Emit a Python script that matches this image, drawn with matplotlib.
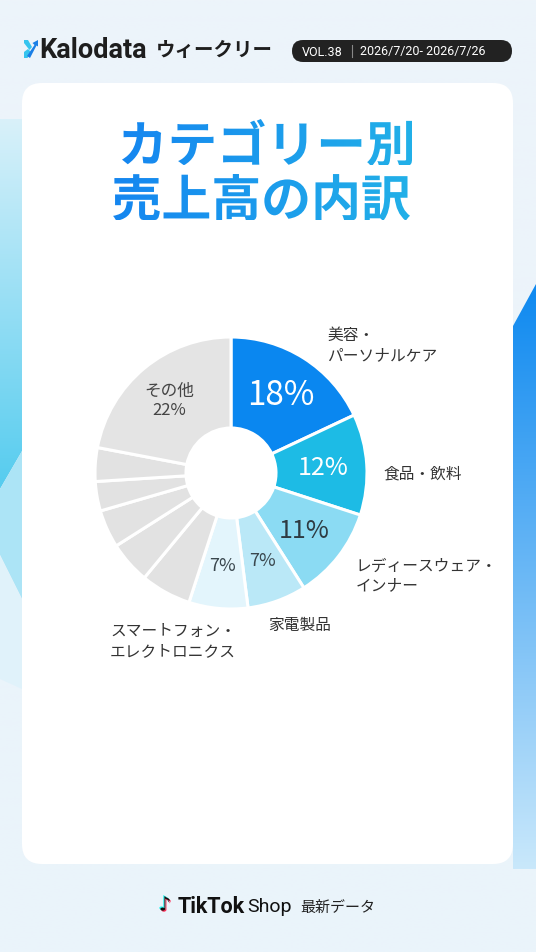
import numpy as np
import matplotlib
matplotlib.use("Agg")
import matplotlib.pyplot as plt
import matplotlib.patheffects as pe
from matplotlib.patches import FancyBboxPatch, Polygon, PathPatch
from matplotlib.textpath import TextPath
from matplotlib.font_manager import FontProperties
from matplotlib.colors import to_rgb
from matplotlib.transforms import Affine2D

# Data
categories = ["美容・\nパーソナルケア", "食品・飲料", "レディースウェア・\nインナー", "家電製品",
              "スマートフォン・\nエレクトロニクス", "", "", "", "", "", "その他"]
shares = [18, 12, 11, 7, 7, 6, 5, 4.5, 3.5, 4, 22]
pct_labels = ["18%", "12%", "11%", "7%", "7%", "", "", "", "", "", "その他\n22%"]
slice_colors = ["#0A87F0", "#1DBBE5", "#8BDBF3", "#BAE8F7", "#E3F5FC",
                "#E2E2E2", "#E2E2E2", "#E2E2E2", "#E2E2E2", "#E2E2E2", "#E4E4E4"]

title_lines = ["カテゴリー別", "売上高の内訳"]
brand = "Kalodata"
series_name = "ウィークリー"
vol_text = "VOL.38"
date_text = "2026/7/20- 2026/7/26"

W, H = 536, 953
JP = ["Noto Sans CJK JP", "DejaVu Sans"]
LAT = ["Roboto", "DejaVu Sans"]
plt.rcParams["font.family"] = JP


def Y(v):
    return H - v


def gradient(ax, extent, c0, c1, vertical=True, clip=None, z=0):
    a, b = np.array(to_rgb(c0)), np.array(to_rgb(c1))
    t = np.linspace(0, 1, 256)
    ramp = a[None, :] * (1 - t[:, None]) + b[None, :] * t[:, None]
    img = ramp[:, None, :] if vertical else ramp[None, :, :]
    im = ax.imshow(img, extent=extent, origin="upper" if vertical else "lower",
                   aspect="auto", zorder=z, interpolation="bilinear")
    if clip is not None:
        im.set_clip_path(clip)
    return im


fig = plt.figure(figsize=(W / 100, H / 100), dpi=100)
ax = fig.add_axes([0, 0, 1, 1])

# background
gradient(ax, (0, W, 0, H), "#EDF4FA", "#EAF4FB", z=0)

# right blue strip
strip = Polygon([(513, Y(327)), (536, Y(285)), (536, 0), (513, 0)], closed=True,
                facecolor="none", edgecolor="none")
ax.add_patch(strip)
gradient(ax, (513, 536, Y(870), Y(285)), "#0E89F0", "#C9E8FB", clip=strip, z=0.2)

# left cyan band
band = Polygon([(0, Y(120)), (22, Y(120)), (22, Y(452)), (0, Y(490))], closed=True,
               facecolor="none", edgecolor="none")
ax.add_patch(band)
gradient(ax, (0, 22, Y(490), Y(120)), "#D9F1FA", "#55CCEF", clip=band, z=0.2)
ax.add_patch(Polygon([(0, Y(490)), (22, Y(452)), (22, Y(600)), (0, Y(556))],
                     closed=True, facecolor="#ACE4F6", edgecolor="none", zorder=0.2))
ax.add_patch(Polygon([(0, Y(556)), (22, Y(600)), (22, Y(690)), (0, Y(680))],
                     closed=True, facecolor="#E0F2FA", edgecolor="none", zorder=0.2))

# card
ax.add_patch(FancyBboxPatch((22, Y(865)), 491, 781,
                            boxstyle="round,pad=0,rounding_size=20",
                            facecolor="white", edgecolor="none", zorder=0.5))

# header logo
ax.add_patch(Polygon([(24, Y(41)), (28, Y(41)), (32, Y(48)), (29.5, Y(51)), (24, Y(44))],
                     closed=True, facecolor="#36C4EE", edgecolor="none", zorder=2))
ax.add_patch(Polygon([(24, Y(59)), (24, Y(53)), (28, Y(50)), (31, Y(53)), (27.5, Y(59))],
                     closed=True, facecolor="#36C4EE", edgecolor="none", zorder=2))
ax.add_patch(Polygon([(27, Y(57)), (34.5, Y(46)), (32.5, Y(44)), (38, Y(41)), (38, Y(47.5)),
                      (36.5, Y(46.5)), (30, Y(59))],
                     closed=True, facecolor="#1A7FE6", edgecolor="none", zorder=2))
ax.text(39.5, Y(51), brand, fontsize=19.5, fontweight="bold", color="#1E1E1E",
        family=LAT, va="center", ha="left", zorder=3)
ax.text(156, Y(51), series_name, fontsize=14, fontweight="bold", color="#1E1E1E",
        va="center", ha="left", zorder=3)

ax.add_patch(FancyBboxPatch((292, Y(63)), 220, 22,
                            boxstyle="round,pad=0,rounding_size=11",
                            facecolor="#222222", edgecolor="none", zorder=2))
ax.text(302, Y(52), vol_text, fontsize=9, color="white", va="center", ha="left",
        family=LAT, zorder=3)
ax.plot([352, 352], [Y(46), Y(58)], color="#888888", lw=0.8, zorder=3)
ax.text(360, Y(52), date_text, fontsize=9, color="white", va="center", ha="left",
        family=LAT, zorder=3)

# title with blue gradient
fp_title = FontProperties(family="Noto Sans CJK JP", weight="bold")
title_boxes = [(122, 412, 120, 163), (113, 410, 175, 218)]
for line, (x0, x1, yt, yb) in zip(title_lines, title_boxes):
    tp = TextPath((0, 0), line, size=1, prop=fp_title)
    ext = tp.get_extents()
    s = (x1 - x0) / ext.width
    tr = Affine2D().translate(-ext.x0, -ext.y1).scale(s).translate(x0, Y(yt))
    pp = PathPatch(tr.transform_path(tp), facecolor="none", edgecolor="none")
    ax.add_patch(pp)
    gradient(ax, (x0 - 2, x1 + 2, Y(yb) - 3, Y(yt) + 3), "#1586F0", "#22B0E8",
             vertical=False, clip=pp, z=3)

# donut
cx, cy, R = 231, Y(474), 136
wedges, _ = ax.pie(shares, colors=slice_colors, startangle=90, counterclock=False,
                   center=(cx, cy), radius=R,
                   wedgeprops=dict(width=R - 45, edgecolor="white", linewidth=2.2))
for w in wedges:
    w.set_zorder(2)

pct_style = {"18%": (24, "white"), "12%": (18, "white"), "11%": (18, "#2E3B42")}
for w, lab in zip(wedges, pct_labels):
    if not lab:
        continue
    mid = np.deg2rad((w.theta1 + w.theta2) / 2)
    px, py = cx + 0.68 * R * np.cos(mid), cy + 0.68 * R * np.sin(mid)
    if lab.startswith("その他"):
        ax.text(px - 3, py + 2, lab, fontsize=12, color="#444444", ha="center",
                va="center", linespacing=1.15, zorder=3)
    else:
        fs, col = pct_style.get(lab, (13, "#3A474E"))
        ax.text(px, py, lab, fontsize=fs, color=col, ha="center", va="center", zorder=3)

# outer category labels
label_pos = [(327, 346, "left"), (383, 474, "left"), (356, 576, "left"),
             (268, 625, "left"), (173, 642, "center")]
for lab, (lx, ly, ha) in zip(categories, label_pos):
    ax.text(lx, Y(ly), lab, fontsize=11.3, color="#333333", ha=ha, va="center",
            linespacing=1.25, zorder=3)

# footer
note_fx = [pe.SimplePatchShadow(offset=(-0.8, 0.8), shadow_rgbFace="#25F4EE", alpha=1),
           pe.SimplePatchShadow(offset=(0.8, -0.8), shadow_rgbFace="#FE2C55", alpha=1),
           pe.Normal()]
ax.text(165, Y(906), "♪", fontsize=14, fontweight="bold", color="#111111",
        family=["DejaVu Sans"], ha="center", va="center", zorder=3, path_effects=note_fx)
ax.text(178, Y(907), "TikTok", fontsize=15.5, fontweight="bold", color="#111111",
        family=LAT, ha="left", va="center", zorder=3)
ax.text(247, Y(907), "Shop", fontsize=14, color="#111111",
        family=LAT, ha="left", va="center", zorder=3)
ax.text(300, Y(908), "最新データ", fontsize=10.8, color="#222222",
        ha="left", va="center", zorder=3)

ax.set_xlim(0, W)
ax.set_ylim(0, H)
ax.set_aspect("auto")
ax.axis("off")
fig.savefig("out.png", dpi=100)
